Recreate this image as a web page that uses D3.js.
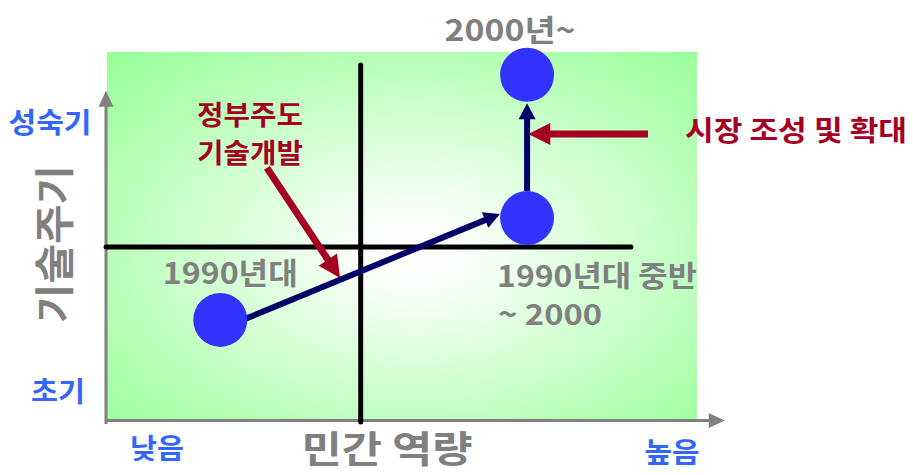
<!DOCTYPE html>
<html>
<head>
<meta charset="utf-8">
<script src="https://cdn.jsdelivr.net/npm/d3@7"></script>
<style>
  html, body { margin: 0; padding: 0; background: #fff; }
  text { font-family: "Noto Sans CJK KR", "Noto Sans", sans-serif; font-weight: 700; }
</style>
</head>
<body>
<svg id="chart" width="913" height="475"></svg>
<script>
// Development stages of domestic technology: private capability (x) vs technology cycle (y)
const stages = ["1990년대", "1990년대 중반", "2000년~"];
const privateCapability = [1.92, 7.12, 7.12];
const techCycle = [2.72, 5.49, 9.38];

// Quadrant dividers
const dividerX = 4.3;
const dividerY = 4.7;

// Transitions between stages (data units): [x0, y0, x1, y1]
const transitions = [
  [2.30, 2.72, 6.66, 5.60],
  [7.12, 6.22, 7.12, 8.61]
];

// Annotation arrows (data units)
const policyArrows = [
  [2.71, 6.85, 3.95, 3.86],
  [9.17, 7.77, 7.14, 7.77]
];

const yAxisLabels = ["초기", "성숙기"];
const xAxisLabels = ["낮음", "높음"];
const xTitle = "민간 역량";
const yTitle = "기술주기";

const svg = d3.select("#chart");
const x = d3.scaleLinear().domain([0, 10]).range([107, 697]);
const y = d3.scaleLinear().domain([0, 10]).range([420, 52]);

// Background gradient: white centre fading to light green corners
const defs = svg.append("defs");
const grad = defs.append("radialGradient")
  .attr("id", "bg").attr("cx", "52%").attr("cy", "54%").attr("r", "72%");
grad.append("stop").attr("offset", "0%").attr("stop-color", "#ffffff");
grad.append("stop").attr("offset", "12%").attr("stop-color", "#fbfffb");
grad.append("stop").attr("offset", "100%").attr("stop-color", "#99ff99");

svg.append("rect")
  .attr("x", x(0)).attr("y", y(10))
  .attr("width", x(10) - x(0)).attr("height", y(0) - y(10))
  .attr("fill", "url(#bg)");

// Arrow helper: shaft plus triangular head
function arrow(g, x0, y0, x1, y1, color, width, headLen, headW) {
  const dx = x1 - x0, dy = y1 - y0, len = Math.hypot(dx, dy);
  const ux = dx / len, uy = dy / len;
  const bx = x1 - ux * headLen, by = y1 - uy * headLen;
  g.append("line")
    .attr("x1", x0).attr("y1", y0).attr("x2", bx + ux).attr("y2", by + uy)
    .attr("stroke", color).attr("stroke-width", width);
  g.append("path")
    .attr("d", `M${x1},${y1}L${bx - uy * headW / 2},${by + ux * headW / 2}L${bx + uy * headW / 2},${by - ux * headW / 2}Z`)
    .attr("fill", color);
}

// Gray main axes with arrow tips
const axes = svg.append("g");
arrow(axes, x(0) - 1, y(0) + 4, x(0) - 1, y(8.95), "#808080", 3, 16, 15);
arrow(axes, x(0) - 1, y(0) + 0.5, x(10.47), y(0) + 0.5, "#808080", 3, 16, 15);

// Black quadrant cross
svg.append("line")
  .attr("x1", x(dividerX)).attr("x2", x(dividerX))
  .attr("y1", y(9.65)).attr("y2", y(0) + 2)
  .attr("stroke", "#000").attr("stroke-width", 5).attr("stroke-linecap", "round");
svg.append("line")
  .attr("x1", x(0) - 1).attr("x2", x(8.88))
  .attr("y1", y(dividerY)).attr("y2", y(dividerY))
  .attr("stroke", "#000").attr("stroke-width", 5).attr("stroke-linecap", "round");

// Stage transitions (navy)
const trans = svg.append("g");
transitions.forEach(t => arrow(trans, x(t[0]), y(t[1]), x(t[2]), y(t[3]), "#000066", 6, 16, 17));

// Stage points
svg.append("g").selectAll("circle")
  .data(stages.map((s, i) => ({ s, px: privateCapability[i], ty: techCycle[i] })))
  .join("circle")
  .attr("cx", d => x(d.px)).attr("cy", d => y(d.ty)).attr("r", 27)
  .attr("fill", "#3333ff");

// Policy annotations (red)
const pol = svg.append("g");
policyArrows.forEach(a => arrow(pol, x(a[0]), y(a[1]), x(a[2]), y(a[3]), "#a50021", 7, 22, 22));

function label(txt, cx, cy, size, color, opts = {}) {
  const t = svg.append("text")
    .attr("x", cx).attr("y", cy)
    .attr("text-anchor", "middle").attr("dominant-baseline", "central")
    .attr("font-size", size).attr("fill", color).text(txt);
  if (opts.len) t.attr("textLength", opts.len).attr("lengthAdjust", "spacingAndGlyphs");
  if (opts.rotate) t.attr("transform", `rotate(${opts.rotate},${cx},${cy})`);
  return t;
}

// Stage labels
label(stages[0], x(privateCapability[0]) + 10, y(techCycle[0]) - 49, 30, "#808080", { len: 135 });
label(stages[1], x(privateCapability[1]) + 70, y(techCycle[1]) + 56, 29, "#808080", { len: 200 });
label("~ 2000", x(privateCapability[1]) + 23, y(techCycle[1]) + 94, 29, "#808080", { len: 104 });
label(stages[2], x(privateCapability[2]) - 17, y(techCycle[2]) - 47, 30, "#808080", { len: 131 });

// Policy labels
label("정부주도", 250, 113, 27, "#a50021", { len: 106 });
label("기술개발", 250, 151, 27, "#a50021", { len: 106 });
label("시장 조성 및 확대", 796, 129, 28, "#a50021", { len: 222 });

// Axis end labels
label(yAxisLabels[1], 50, 121, 28, "#3366ff", { len: 83 });
label(yAxisLabels[0], 58, 390, 28, "#3366ff", { len: 54 });
label(xAxisLabels[0], 157, 447, 28, "#3366ff", { len: 54 });
label(xAxisLabels[1], 672, 451, 28, "#3366ff", { len: 55 });

// Axis titles
label(xTitle, 387, 447, 37, "#808080", { len: 171 });
label(yTitle, 52, 244, 40, "#808080", { len: 158, rotate: -90 });
</script>
</body>
</html>
